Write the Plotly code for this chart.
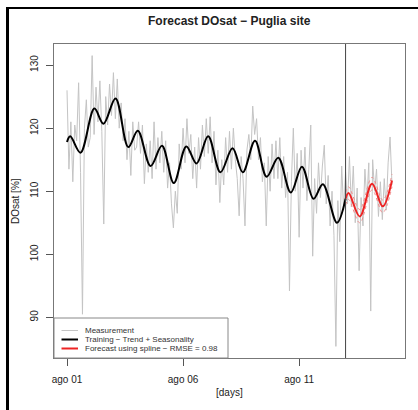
import pandas as pd
import plotly.graph_objects as go

# ---------------- data ----------------
start_date = pd.Timestamp("2021-08-01 00:00")
forecast_start = pd.Timestamp("2021-08-13 00:00")

meas_values = [
    126.0, 113.5, 121.0, 111.5, 120.5, 118.0, 127.2, 113.0, 90.5, 120.0, 124.5, 117.0,
    118.5, 131.5, 119.0, 126.5, 121.0, 127.5, 119.5, 104.8, 125.0, 120.5, 127.0, 122.0,
    128.8, 121.5, 127.8, 120.0, 124.0, 118.0, 121.5, 115.0, 119.5, 112.5, 121.0, 116.5,
    117.0, 121.0, 116.0, 120.5, 111.2, 117.5, 113.0, 118.0, 112.0, 121.0, 113.5, 118.5,
    114.5, 119.5, 113.0, 118.0, 110.5, 114.5, 108.0, 104.2, 110.0, 106.5, 117.5, 113.5,
    120.0, 114.5, 121.5, 116.0, 119.0, 112.0, 117.0, 110.5, 118.5, 113.5, 120.5, 115.5,
    121.5, 116.0, 121.8, 114.5, 119.5, 111.0, 116.5, 108.2, 115.0, 111.0, 118.5, 113.0,
    119.5, 113.5, 120.0, 115.0, 112.0, 106.1, 115.5, 112.0, 104.5, 116.5, 119.0, 115.0,
    123.5, 119.0, 121.5, 115.0, 118.5, 111.5, 114.5, 104.5, 115.5, 110.0, 117.5, 112.0,
    118.0, 112.0, 118.5, 110.5, 115.5, 109.0, 113.0, 94.2, 111.5, 120.0, 110.0, 116.0,
    102.7, 116.5, 110.5, 117.0, 108.5, 113.5, 120.5, 99.7, 112.0, 106.5, 114.5, 109.0,
    114.0, 117.3, 108.0, 112.5, 104.5, 110.0, 103.0, 85.4, 108.5, 102.0, 114.0, 107.0,
    113.0, 108.0, 115.5, 107.5, 114.0, 105.0, 110.5, 97.4, 109.0, 104.5, 113.5, 108.5,
    114.5, 91.0, 115.0, 110.0, 113.5, 106.0, 111.5, 105.5, 112.0, 107.0, 114.5, 118.6, 111.0,
]

# Training: trend + seasonality (days since start, value)
train_days = [0.0, 0.14, 0.58, 1.18, 1.57, 2.09, 2.64, 3.05, 3.60, 4.09, 4.60, 5.14, 5.58,
              6.08, 6.61, 7.13, 7.57, 8.10, 8.60, 9.10, 9.64, 10.12, 10.62, 11.02, 11.63, 12.0]
train_values = [117.8, 118.7, 116.1, 123.1, 120.7, 124.7, 117.0, 119.6, 114.0, 117.2, 111.3,
                117.1, 114.4, 118.7, 113.0, 116.8, 113.0, 118.0, 112.3, 115.3, 109.8, 113.9,
                108.8, 111.1, 105.0, 108.8]

# Forecast using spline
fc_days = [12.0, 12.13, 12.61, 13.14, 13.60, 14.0]
fc_values = [108.8, 109.7, 106.0, 111.2, 107.6, 111.7]
fc_upper = [109.8, 110.7, 107.1, 112.2, 108.6, 112.7]
fc_lower = [107.8, 108.7, 105.0, 110.2, 106.6, 110.7]

tick_dates = ["2021-08-01", "2021-08-06", "2021-08-11"]
tick_labels = ["ago 01", "ago 06", "ago 11"]

legend_labels = ["Measurement", "Training − Trend + Seasonality",
                 "Forecast using spline − RMSE = 0.98"]

# ---------------- figure ----------------
FONT = "Liberation Sans, Arial, sans-serif"
GRAY = "#c4c4c4"
RED = "#ee2424"

meas_time = pd.date_range(start_date, periods=len(meas_values), freq="2h")
train_time = [start_date + pd.Timedelta(days=d) for d in train_days]
fc_time = [start_date + pd.Timedelta(days=d) for d in fc_days]

fig = go.Figure()
fig.add_trace(go.Scatter(x=meas_time, y=meas_values, mode="lines",
                         line=dict(color=GRAY, width=1), showlegend=False))
fig.add_trace(go.Scatter(x=train_time, y=train_values, mode="lines",
                         line=dict(color="black", width=2, shape="spline"), showlegend=False))
for band in (fc_upper, fc_lower):
    fig.add_trace(go.Scatter(x=fc_time, y=band, mode="lines",
                             line=dict(color="#f08a8a", width=1, dash="dot", shape="spline"),
                             showlegend=False))
fig.add_trace(go.Scatter(x=fc_time, y=fc_values, mode="lines",
                         line=dict(color=RED, width=2, shape="spline"), showlegend=False))

# R-like 4% axis extension
tmin, tmax = meas_time.min(), meas_time.max()
span = tmax - tmin
x_range = [tmin - 0.04 * span, tmax + 0.04 * span]
all_y = meas_values + train_values + fc_values
ymin, ymax = min(all_y), max(all_y)
yspan = ymax - ymin
y_range = [ymin - 0.04 * yspan, ymax + 0.04 * yspan]

# plot area geometry in pixels
L, T, W, H = 54, 44, 351, 314
def px(x):
    return (x - L) / W
def py(y):
    return (T + H - y) / H

shapes = [
    # forecast start line
    dict(type="line", xref="x", yref="paper", x0=forecast_start, x1=forecast_start,
         y0=0, y1=1, line=dict(color="#444", width=1)),
    # outer frame (left and top)
    dict(type="line", xref="paper", yref="paper", x0=px(7.5), x1=px(7.5), y0=py(7), y1=py(411),
         line=dict(color="black", width=3)),
    dict(type="line", xref="paper", yref="paper", x0=px(6), x1=px(419), y0=py(8), y1=py(8),
         line=dict(color="black", width=2)),
    # legend box
    dict(type="rect", xref="paper", yref="paper", x0=0, x1=px(228), y0=0, y1=py(318),
         line=dict(color="#888", width=1), fillcolor="white", layer="above"),
]
legend_colors = [GRAY, "black", RED]
legend_widths = [1, 2, 2]
rows = [330.5, 339.5, 348.5]
annotations = []
for lab, col, w, r in zip(legend_labels, legend_colors, legend_widths, rows):
    shapes.append(dict(type="line", xref="paper", yref="paper", x0=px(61.5), x1=px(78),
                       y0=py(r), y1=py(r), line=dict(color=col, width=w), layer="above"))
    annotations.append(dict(text=lab, xref="paper", yref="paper", x=px(83), y=py(r),
                            xanchor="left", yanchor="middle", showarrow=False,
                            font=dict(size=8, color="#333", family=FONT)))

annotations += [
    dict(text="DOsat [%]", xref="paper", yref="paper", x=px(15), y=0.5, textangle=-90,
         xanchor="center", yanchor="middle", showarrow=False,
         font=dict(size=10, color="#222", family=FONT)),
    dict(text="[days]", xref="paper", yref="paper", x=0.5, y=py(392),
         xanchor="center", yanchor="middle", showarrow=False,
         font=dict(size=10, color="#222", family=FONT)),
    dict(text="<b>Forecast DOsat − Puglia site</b>", xref="paper", yref="paper", x=0.5,
         y=py(21), xanchor="center", yanchor="middle", showarrow=False,
         font=dict(size=12, color="#222", family=FONT)),
]

fig.update_layout(
    width=418, height=410,
    margin=dict(l=L, r=418 - L - W, t=T, b=410 - T - H),
    paper_bgcolor="white", plot_bgcolor="white",
    font=dict(family=FONT, size=10, color="#222"),
    shapes=shapes, annotations=annotations, showlegend=False,
)
fig.update_xaxes(range=x_range, tickmode="array", tickvals=tick_dates, ticktext=tick_labels,
                 showgrid=False, zeroline=False, showline=True, mirror=True,
                 linecolor="#777", linewidth=1, ticks="outside", ticklen=7,
                 tickcolor="#555", tickwidth=1, ticklabelstandoff=5,
                 tickfont=dict(size=10, color="#222", family=FONT))
fig.update_yaxes(range=y_range, tickvals=[90, 100, 110, 120, 130],
                 showgrid=False, zeroline=False, showline=True, mirror=True,
                 linecolor="#777", linewidth=1, ticks="outside", ticklen=7,
                 tickcolor="#555", tickwidth=1, tickangle=-90, ticklabelstandoff=4,
                 tickfont=dict(size=10, color="#222", family=FONT))

fig.write_html("out.html")
